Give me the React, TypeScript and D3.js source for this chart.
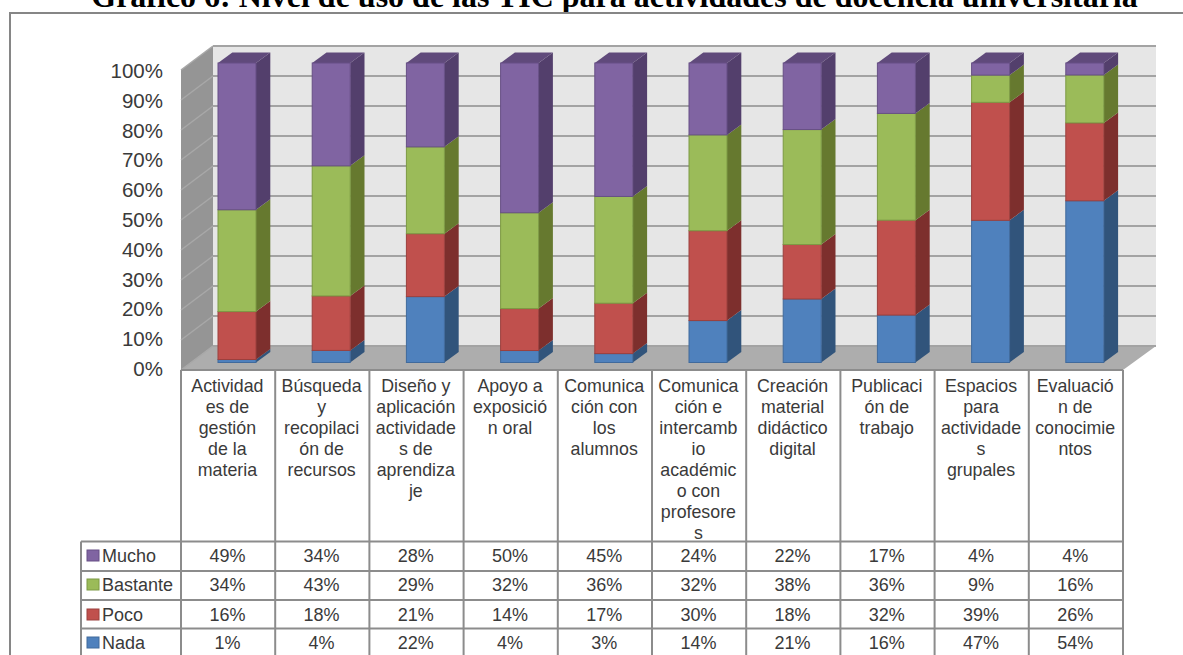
import React from "react";
import * as d3 from "d3";

const titleText = "Gráfico 6: Nivel de uso de las TIC para actividades de docencia universitaria";

const categoryLines: string[][] = [
  ["Actividad", "es de", "gestión", "de la", "materia"],
  ["Búsqueda", "y", "recopilaci", "ón de", "recursos"],
  ["Diseño y", "aplicación", "actividade", "s de", "aprendiza", "je"],
  ["Apoyo a", "exposició", "n oral"],
  ["Comunica", "ción con", "los", "alumnos"],
  ["Comunica", "ción e", "intercamb", "io", "académic", "o con", "profesore", "s"],
  ["Creación", "material", "didáctico", "digital"],
  ["Publicaci", "ón de", "trabajo"],
  ["Espacios", "para", "actividade", "s", "grupales"],
  ["Evaluació", "n de", "conocimie", "ntos"],
];

const nada = [1, 4, 22, 4, 3, 14, 21, 16, 47, 54];
const poco = [16, 18, 21, 14, 17, 30, 18, 32, 39, 26];
const bastante = [34, 43, 29, 32, 36, 32, 38, 36, 9, 16];
const mucho = [49, 34, 28, 50, 45, 24, 22, 17, 4, 4];

const seriesNames = ["Nada", "Poco", "Bastante", "Mucho"];
const seriesValues = [nada, poco, bastante, mucho];
const tableOrder = ["Mucho", "Bastante", "Poco", "Nada"];
const ticks = [0, 10, 20, 30, 40, 50, 60, 70, 80, 90, 100];

const palette: Record<string, { front: string; side: string; top: string; edge: string }> = {
  Nada: { front: "#4f81bd", side: "#31547b", top: "#3c618e", edge: "#406a9c" },
  Poco: { front: "#c0504d", side: "#7d2f2d", top: "#8f3b39", edge: "#9c403e" },
  Bastante: { front: "#9bbb59", side: "#66792f", top: "#748d43", edge: "#7d9a44" },
  Mucho: { front: "#8064a2", side: "#533f6c", top: "#604a7b", edge: "#674f85" },
};

const FONT = "'Liberation Sans', Arial, sans-serif";
const INK = "#3a3a3a";
const LINE = "#8c8c8c";

// Oblique offset between the front plane and the back wall
const depthX = 32;
const depthY = 24;
const barDepthX = 14.3;
const barDepthY = 10.5;

const frontLeft = 181;
const frontRight = 1123;
const floorFront = 370;
const wallBase = floorFront - depthY;

const x = d3.scaleBand<number>().domain(d3.range(categoryLines.length)).range([frontLeft, frontRight]);
const barWidth = 38;
const barOffset = 37;

const wallY = d3.scaleLinear().domain([0, 100]).range([wallBase, 46]);
const barY = d3.scaleLinear().domain([0, 1]).range([362.5, 63]);
const labelY = d3.scaleLinear().domain([0, 100]).range([376, 78]);

const rows = categoryLines.map((_, i) => {
  const row: Record<string, number> = { index: i };
  seriesNames.forEach((name, s) => (row[name] = seriesValues[s][i]));
  return row;
});
const stacked = d3.stack<Record<string, number>>().keys(seriesNames).offset(d3.stackOffsetExpand)(rows);

const poly = (pts: [number, number][]) => pts.map((p) => p.join(",")).join(" ");

const headerTop = floorFront;
const rowEdges = [541.5, 571, 600, 628.5, 658];
const rowBaselines = [562, 591, 621, 649];
const tableLeft = 81;
const textShift = -0.7;

function App() {
  const wallRight = frontRight + depthX + 1;
  return (
    <svg
      width={1183}
      height={655}
      viewBox="0 0 1183 655"
      style={{ position: "absolute", left: 0, top: 0, display: "block", background: "#fff" }}
    >
      <text
        x={614.5}
        y={6.5}
        textAnchor="middle"
        fontFamily="'Liberation Serif', 'Times New Roman', serif"
        fontWeight="bold"
        fontSize={32}
        fill="#000"
      >
        {titleText}
      </text>

      <path d="M10 655V13H1183" fill="none" stroke="#868686" strokeWidth={2} />

      {/* Walls and floor */}
      <rect x={frontLeft + depthX} y={46} width={wallRight - frontLeft - depthX} height={wallBase - 46} fill="#e6e6e6" />
      <polygon
        points={poly([
          [frontLeft, 46 + depthY],
          [frontLeft + depthX, 46],
          [frontLeft + depthX, wallBase],
          [frontLeft, floorFront],
        ])}
        fill="#959595"
      />
      <polygon
        points={poly([
          [frontLeft + depthX, wallBase],
          [wallRight, wallBase],
          [frontRight, floorFront],
          [frontLeft, floorFront],
        ])}
        fill="#adadad"
      />

      {ticks.map((t) => (
        <g key={t} stroke="#a3a3a3" strokeWidth={2}>
          <line x1={frontLeft + depthX} x2={wallRight} y1={wallY(t)} y2={wallY(t)} />
          <line x1={frontLeft} x2={frontLeft + depthX} y1={wallY(t) + depthY} y2={wallY(t)} strokeWidth={1.5} stroke="#a8a8a8" />
        </g>
      ))}

      {ticks.map((t) => (
        <text key={t} x={163} y={labelY(t)} textAnchor="end" fontFamily={FONT} fontSize={20.5} fill={INK}>
          {t}%
        </text>
      ))}

      {/* Stacked columns, drawn from the floor upwards */}
      {stacked.map((layer) => {
        const c = palette[layer.key];
        return (
          <g key={layer.key}>
            {layer.map((d, i) => {
              const bx = (x(i) as number) + barOffset;
              const y0 = barY(d[0]);
              const y1 = barY(d[1]);
              const isTop = layer.key === "Mucho";
              return (
                <g key={i}>
                  <polygon
                    points={poly([
                      [bx + barWidth, y0],
                      [bx + barWidth + barDepthX, y0 - barDepthY],
                      [bx + barWidth + barDepthX, y1 - barDepthY],
                      [bx + barWidth, y1],
                    ])}
                    fill={c.side}
                  />
                  {isTop && (
                    <polygon
                      points={poly([
                        [bx, y1],
                        [bx + barDepthX, y1 - barDepthY],
                        [bx + barWidth + barDepthX, y1 - barDepthY],
                        [bx + barWidth, y1],
                      ])}
                      fill={c.top}
                    />
                  )}
                  <rect x={bx} y={y1} width={barWidth} height={y0 - y1} fill={c.front} stroke={c.edge} strokeWidth={1} />
                </g>
              );
            })}
          </g>
        );
      })}

      {/* Category header cells */}
      <rect x={frontLeft} y={headerTop} width={frontRight - frontLeft} height={rowEdges[0] - headerTop} fill="#fff" />
      {categoryLines.map((lines, i) => (
        <text key={i} textAnchor="middle" fontFamily={FONT} fontSize={17.8} fill={INK}>
          {lines.map((line, k) => (
            <tspan key={k} x={(x(i) as number) + x.bandwidth() / 2 + textShift} y={392 + k * 21}>
              {line}
            </tspan>
          ))}
        </text>
      ))}

      {/* Data table */}
      <g stroke={LINE} strokeWidth={2} fill="none">
        <line x1={frontLeft} x2={frontRight} y1={headerTop} y2={headerTop} />
        {rowEdges.slice(0, 4).map((y) => (
          <line key={y} x1={tableLeft} x2={frontRight + 1} y1={y} y2={y} />
        ))}
        <line x1={tableLeft} x2={tableLeft} y1={rowEdges[0]} y2={655} />
        {d3.range(categoryLines.length + 1).map((i) => {
          const vx = frontLeft + i * x.step();
          return <line key={i} x1={vx} x2={vx} y1={headerTop} y2={655} />;
        })}
      </g>

      {tableOrder.map((name, r) => {
        const c = palette[name];
        const values = seriesValues[seriesNames.indexOf(name)];
        return (
          <g key={name}>
            <rect x={87} y={rowBaselines[r] - 12} width={12} height={11} fill={c.front} stroke={c.edge} strokeWidth={1} />
            <text x={102} y={rowBaselines[r]} fontFamily={FONT} fontSize={18} fill={INK}>
              {name}
            </text>
            {values.map((v, i) => (
              <text
                key={i}
                x={(x(i) as number) + x.bandwidth() / 2 + textShift}
                y={rowBaselines[r]}
                textAnchor="middle"
                fontFamily={FONT}
                fontSize={18}
                fill={INK}
              >
                {v}%
              </text>
            ))}
          </g>
        );
      })}
    </svg>
  );
}

export default App;
